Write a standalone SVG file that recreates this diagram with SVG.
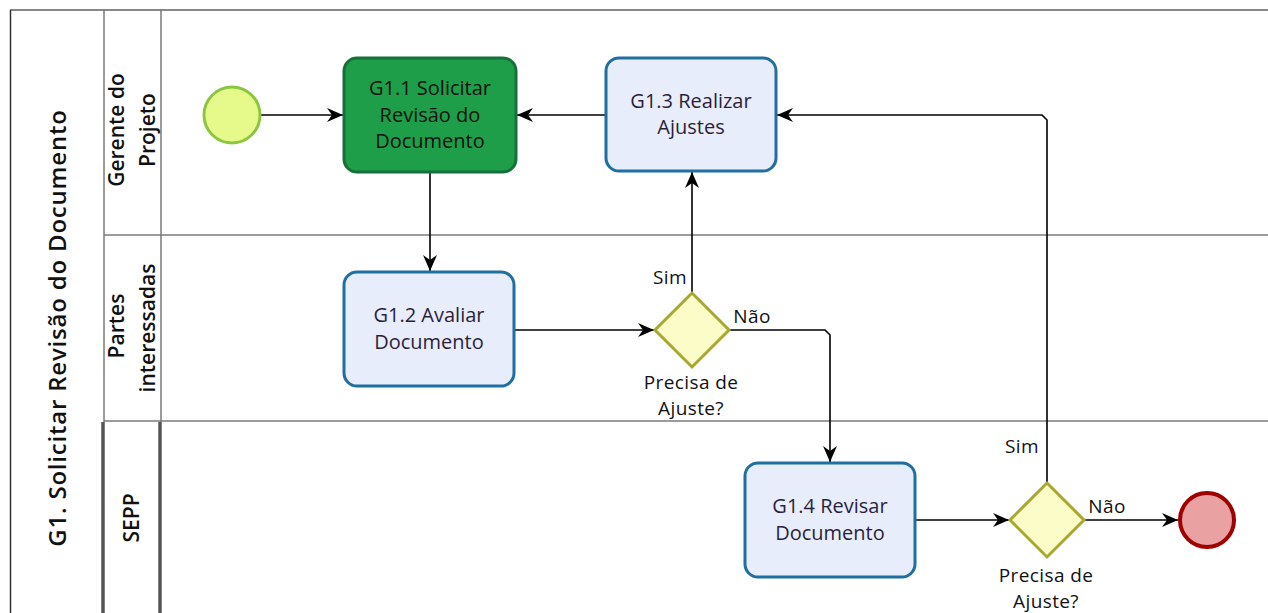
<svg xmlns="http://www.w3.org/2000/svg" width="1268" height="613" viewBox="0 0 1268 613">
<style>
.lane{stroke:#7a7a7a;stroke-width:1.5;fill:none}
.thick{stroke:#555;stroke-width:3.5;fill:none}
.hdr{font-family:"Open Sans","Noto Sans",sans-serif;font-weight:600;font-size:21px;fill:#111;text-anchor:middle}
.task{fill:#e8edfc;stroke:#1f6fa0;stroke-width:3}
.tt{font-family:"Open Sans","Noto Sans",sans-serif;font-size:20px;fill:#2a1f3a;text-anchor:middle}
.lbl{font-family:"Open Sans","Noto Sans",sans-serif;font-size:19px;letter-spacing:0.4px;fill:#111;text-anchor:middle}
.gw{fill:#fcfcc8;stroke:#a8a830;stroke-width:3}
.conn{stroke:#000;stroke-width:1.6;fill:none;marker-end:url(#arr)}
</style>
<defs>
<marker id="arr" markerUnits="userSpaceOnUse" viewBox="0 0 16 14" refX="16" refY="7" markerWidth="16" markerHeight="14" orient="auto">
<path d="M0,0 L16,7 L0,14 L5,7 z" fill="#000"/>
</marker>
</defs>
<rect width="1268" height="613" fill="#fff"/>
<g id="pool">
<line x1="10" y1="10" x2="1268" y2="10" stroke="#888" stroke-width="2"/>
<line x1="10.5" y1="10" x2="10.5" y2="613" stroke="#333" stroke-width="1.5"/>
<line class="lane" x1="104" y1="10" x2="104" y2="422"/>
<line class="lane" x1="161" y1="10" x2="161" y2="422"/>
<line class="lane" x1="104" y1="235" x2="1268" y2="235"/>
<line class="lane" x1="104" y1="421" x2="1268" y2="421"/>
<line class="thick" x1="103" y1="422" x2="103" y2="613"/>
<line class="thick" x1="160" y1="422" x2="160" y2="613"/>
<text class="hdr" style="font-size:24px;letter-spacing:0.8px" transform="translate(66,328) rotate(-90)">G1. Solicitar Revisão do Documento</text>
</g>
<g id="lane-gerente">
<text class="hdr" transform="rotate(-90)" x="-130" y="124">Gerente do</text>
<text class="hdr" transform="rotate(-90)" x="-130" y="155">Projeto</text>
</g>
<g id="lane-partes">
<text class="hdr" transform="rotate(-90)" x="-326" y="124">Partes</text>
<text class="hdr" transform="rotate(-90)" x="-328" y="155">interessadas</text>
</g>
<g id="lane-sepp">
<text class="hdr" transform="rotate(-90)" x="-518" y="139">SEPP</text>
</g>
<g id="connectors">
<path class="conn" d="M261,115 H343"/>
<path class="conn" d="M606,115 H517"/>
<path class="conn" d="M430,172 V271"/>
<path class="conn" d="M514,330 H654"/>
<path class="conn" d="M692,293 V172"/>
<path class="conn" d="M729,330 H825 L830,335 V462"/>
<path class="conn" d="M915,520 H1009"/>
<path class="conn" d="M1047,483 V120 L1042,115 H777"/>
<path class="conn" d="M1084,520 H1178"/>
<text class="lbl" x="670" y="284">Sim</text>
<text class="lbl" x="752" y="323">Não</text>
<text class="lbl" x="1022" y="453">Sim</text>
<text class="lbl" x="1107" y="513">Não</text>
</g>
<g id="start">
<circle cx="232" cy="115" r="28" fill="#e6fa8c" stroke="#8cc63e" stroke-width="3"/>
</g>
<g id="g11">
<rect x="344" y="58" width="172" height="114" rx="13" fill="#1e9e48" stroke="#15703a" stroke-width="3"/>
<text class="tt" x="430" y="95" style="fill:#111">G1.1 Solicitar</text>
<text class="tt" x="430" y="122" style="fill:#111">Revisão do</text>
<text class="tt" x="430" y="148" style="fill:#111">Documento</text>
</g>
<g id="g13">
<rect class="task" x="606" y="58" width="170" height="113" rx="13"/>
<text class="tt" x="691" y="108">G1.3 Realizar</text>
<text class="tt" x="691" y="134">Ajustes</text>
</g>
<g id="g12">
<rect class="task" x="344" y="272" width="170" height="114" rx="13"/>
<text class="tt" x="429" y="322">G1.2 Avaliar</text>
<text class="tt" x="429" y="349">Documento</text>
</g>
<g id="gw1">
<polygon class="gw" points="692,293 729,330 692,367 655,330"/>
<text class="lbl" x="691" y="389">Precisa de</text>
<text class="lbl" x="691" y="415">Ajuste?</text>
</g>
<g id="g14">
<rect class="task" x="745" y="463" width="170" height="114" rx="13"/>
<text class="tt" x="830" y="513">G1.4 Revisar</text>
<text class="tt" x="830" y="540">Documento</text>
</g>
<g id="gw2">
<polygon class="gw" points="1047,483 1084,520 1047,557 1010,520"/>
<text class="lbl" x="1046" y="582">Precisa de</text>
<text class="lbl" x="1046" y="608">Ajuste?</text>
</g>
<g id="end">
<circle cx="1207" cy="520" r="27" fill="#e9a1a1" stroke="#a00000" stroke-width="4"/>
</g>
</svg>
